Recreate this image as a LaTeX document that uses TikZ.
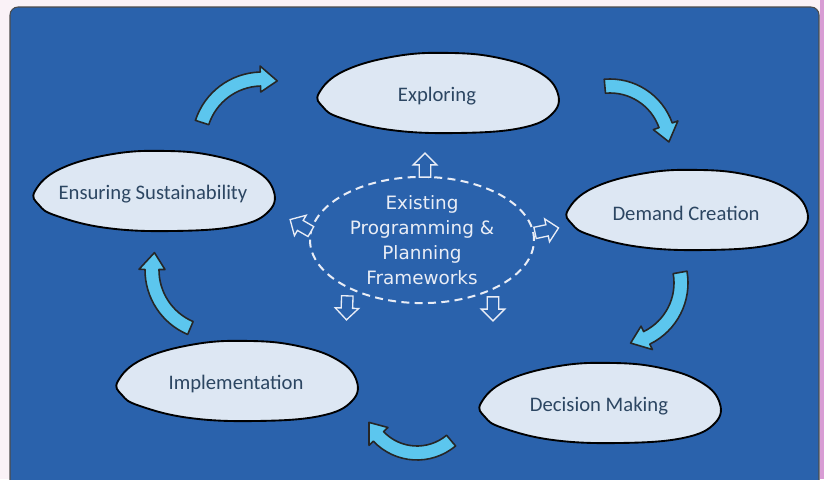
\documentclass[tikz,border=0pt]{standalone}
\usepackage{fontspec}
\setmainfont{Carlito}
\newfontfamily\corefont{DejaVu Sans}
\usepackage{tikz}
\usetikzlibrary{shapes.geometric,shapes.arrows}

\definecolor{pagebg}{HTML}{FAF2F7}
\definecolor{edgepink}{HTML}{D89CD4}
\definecolor{bgblue}{HTML}{2A62AC}
\definecolor{arrowcyan}{HTML}{5CC6EE}
\definecolor{blobfill}{HTML}{DDE7F3}
\definecolor{blobink}{HTML}{2C4662}
\definecolor{coreink}{HTML}{E9EDF6}

% blob with its label, #2 is the label position
\newcommand{\blobnode}[3]{%
  \draw[blob, shift={(#2)}] plot[smooth cycle, tension=0.7] coordinates {(-118,-3) (-93,-25) (-40,-40) (15,-43) (62,-38) (100,-25) (120,-5) (116,17) (84,32) (20,37) (-46,34) (-96,22) (-114,11)};
  \node[blobtext] (#1) at (#2) {#3};
}
% bent block arrow: centre, radius, start angle, end angle
\newcommand{\bentarrow}[4]{%
  \pgfmathsetmacro{\hb}{#4-17/#2*57.3}
  \filldraw[bendarrow, shift={(#1)}] ({#3}:{#2+7}) arc[start angle=#3, end angle=\hb, radius={#2+7}]
    -- ({\hb}:{#2+13}) -- ({#4}:{#2}) -- ({\hb}:{#2-13}) -- ({\hb}:{#2-7})
    arc[start angle=\hb, end angle=#3, radius={#2-7}] -- cycle;
}

\begin{document}
\begin{tikzpicture}[x=0.75pt, y=-0.75pt,
    blob/.style={draw=black, line width=1.4pt, fill=blobfill},
    blobtext/.style={font=\fontsize{15.5}{18}\selectfont, text=blobink},
    bendarrow/.style={fill=arrowcyan, draw=black!85, line width=1.2pt, line join=round},
    outarrow/.style={single arrow, draw=coreink, fill=bgblue, line width=1pt,
      minimum height=18pt, inner xsep=0pt, inner ysep=3.8pt, single arrow head extend=4.5pt}]
  \useasboundingbox (0,0) rectangle (824,479);
  \clip (0,0) rectangle (824,479);
  \fill[pagebg] (0,0) rectangle (824,479);
  \fill[edgepink] (820,0) rectangle (824,479);
  \filldraw[fill=bgblue, draw=black!70, line width=0.8pt, rounded corners=6pt] (10,495) rectangle (819,7);

  \blobnode{explore}{437,96}{Exploring}
  \blobnode{demand}{686,213}{Demand Creation}
  \blobnode{decide}{599,406}{Decision Making}
  \blobnode{implement}{236,384}{Implementation}
  \blobnode{sustain}{153,194}{Ensuring Sustainability}

  \bentarrow{262,142}{63}{198}{284}
  \bentarrow{610,145}{59}{265}{357}
  \bentarrow{620,283}{61}{350}{440}
  \bentarrow{417,400}{53}{50}{155}
  \bentarrow{215,270}{63}{113}{196}

  \node[ellipse, draw=coreink, dashed, dash pattern=on 6pt off 4pt, line width=1.5pt,
    minimum width=168pt, minimum height=90pt, inner sep=0pt, align=center, text=coreink,
    font=\corefont\fontsize{13.8}{18.75}\selectfont] (core) at (422,240)
    {Existing\\Programming \&\\Planning\\Frameworks};

  \node[outarrow, rotate=90] (toexplore) at (425,168) {};
  \node[outarrow, rotate=150] (tosustain) at (303,227) {};
  \node[outarrow, rotate=12] (todemand) at (544,231) {};
  \node[outarrow, rotate=-92] (toimplement) at (347,305) {};
  \node[outarrow, rotate=-90] (todecide) at (493,306) {};
\end{tikzpicture}
\end{document}
